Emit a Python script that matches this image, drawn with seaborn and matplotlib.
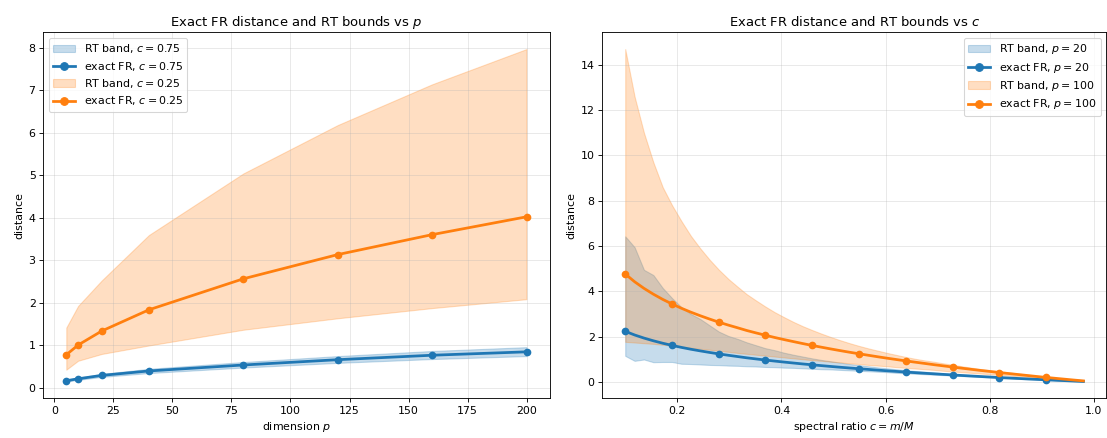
import matplotlib
matplotlib.use("Agg")
import matplotlib.pyplot as plt
import seaborn as sns
import numpy as np
import pandas as pd
from matplotlib.patches import Patch
from matplotlib.lines import Line2D

# ---------------- data: left panel (distance vs p) ----------------
p_vals = [5, 10, 20, 40, 80, 120, 160, 200]
fr_c075 = [0.16, 0.205, 0.285, 0.39, 0.53, 0.655, 0.76, 0.84]
rt_lo_c075 = [0.14, 0.18, 0.25, 0.34, 0.47, 0.58, 0.67, 0.74]
rt_hi_c075 = [0.18, 0.23, 0.32, 0.44, 0.60, 0.74, 0.86, 0.95]
fr_c025 = [0.77, 1.00, 1.33, 1.83, 2.56, 3.13, 3.60, 4.02]
rt_lo_c025 = [0.42, 0.63, 0.79, 0.99, 1.36, 1.63, 1.87, 2.08]
rt_hi_c025 = [1.41, 1.92, 2.52, 3.59, 5.04, 6.18, 7.14, 7.97]

# ---------------- data: right panel (distance vs c) ----------------
c_vals = [0.100, 0.118, 0.136, 0.154, 0.172, 0.190, 0.208, 0.226, 0.244, 0.262,
          0.280, 0.298, 0.316, 0.333, 0.351, 0.369, 0.387, 0.405, 0.423, 0.441,
          0.459, 0.477, 0.495, 0.513, 0.531, 0.549, 0.567, 0.585, 0.603, 0.621,
          0.639, 0.657, 0.675, 0.693, 0.711, 0.729, 0.747, 0.764, 0.782, 0.800,
          0.818, 0.836, 0.854, 0.872, 0.890, 0.908, 0.926, 0.944, 0.962, 0.980]
fr_p20 = [2.234, 2.073, 1.936, 1.816, 1.708, 1.612, 1.524, 1.443, 1.370, 1.301,
          1.236, 1.176, 1.119, 1.065, 1.015, 0.966, 0.920, 0.876, 0.834, 0.793,
          0.755, 0.718, 0.682, 0.647, 0.614, 0.582, 0.551, 0.520, 0.491, 0.463,
          0.435, 0.408, 0.382, 0.356, 0.332, 0.307, 0.283, 0.261, 0.238, 0.216,
          0.194, 0.174, 0.153, 0.133, 0.113, 0.093, 0.075, 0.056, 0.038, 0.019]
rt_lo_p20 = [1.15, 0.93, 0.99, 0.87, 0.88, 0.88, 0.80, 0.79, 0.77, 0.75,
             0.74, 0.72, 0.71, 0.69, 0.68, 0.66, 0.65, 0.63, 0.62, 0.60,
             0.58, 0.56, 0.55, 0.53, 0.51, 0.49, 0.47, 0.45, 0.43, 0.40,
             0.38, 0.36, 0.34, 0.32, 0.30, 0.28, 0.26, 0.24, 0.22, 0.20,
             0.175, 0.155, 0.135, 0.115, 0.10, 0.08, 0.06, 0.045, 0.03, 0.015]
rt_hi_p20 = [6.43, 5.95, 4.95, 4.72, 4.15, 3.70, 3.30, 3.00, 2.78, 2.50,
             2.22, 2.03, 1.90, 1.75, 1.62, 1.49, 1.40, 1.29, 1.20, 1.12,
             1.04, 0.97, 0.91, 0.85, 0.79, 0.74, 0.69, 0.64, 0.60, 0.56,
             0.52, 0.48, 0.45, 0.42, 0.38, 0.35, 0.32, 0.30, 0.27, 0.24,
             0.22, 0.19, 0.17, 0.15, 0.125, 0.10, 0.08, 0.06, 0.04, 0.02]
fr_p100 = [4.767, 4.424, 4.132, 3.875, 3.645, 3.440, 3.252, 3.080, 2.923, 2.776,
           2.637, 2.509, 2.389, 2.273, 2.165, 2.062, 1.962, 1.869, 1.780, 1.693,
           1.610, 1.532, 1.455, 1.381, 1.310, 1.242, 1.176, 1.110, 1.047, 0.987,
           0.927, 0.871, 0.816, 0.760, 0.708, 0.656, 0.604, 0.557, 0.507, 0.462,
           0.414, 0.371, 0.327, 0.284, 0.240, 0.199, 0.159, 0.120, 0.081, 0.045]
rt_lo_p100 = [1.77, 1.74, 1.71, 1.68, 1.64, 1.60, 1.55, 1.51, 1.46, 1.42,
              1.37, 1.33, 1.28, 1.24, 1.20, 1.16, 1.12, 1.08, 1.04, 1.00,
              0.96, 0.93, 0.89, 0.86, 0.82, 0.79, 0.75, 0.72, 0.69, 0.65,
              0.62, 0.59, 0.56, 0.53, 0.49, 0.46, 0.43, 0.40, 0.37, 0.34,
              0.31, 0.28, 0.25, 0.22, 0.19, 0.16, 0.13, 0.10, 0.06, 0.03]
rt_hi_p100 = [14.7, 12.6, 11.0, 9.7, 8.6, 7.8, 7.1, 6.45, 5.9, 5.4,
              4.95, 4.55, 4.2, 3.88, 3.6, 3.33, 3.08, 2.86, 2.65, 2.46,
              2.29, 2.13, 1.98, 1.84, 1.71, 1.59, 1.48, 1.38, 1.28, 1.19,
              1.10, 1.02, 0.95, 0.89, 0.82, 0.76, 0.69, 0.63, 0.57, 0.52,
              0.47, 0.42, 0.37, 0.32, 0.27, 0.22, 0.18, 0.13, 0.09, 0.05]

C0 = "#1f77b4"
C1 = "#ff7f0e"
BAND_ALPHA = 0.25

DPI = 79
fig = plt.figure(figsize=(1107 / DPI, 438 / DPI), dpi=DPI)
ax1 = fig.add_axes([0.0391, 0.0909, 0.4573, 0.835])
ax2 = fig.add_axes([0.5441, 0.0909, 0.4553, 0.835])


def panel(ax, x, series, markevery=None):
    handles, labels = [], []
    for fr, lo, hi, color, tag in series:
        ax.fill_between(x, lo, hi, color=color, alpha=BAND_ALPHA)
        kw = dict(marker="o", markersize=7, linewidth=2.5, color=color,
                  markeredgewidth=0, errorbar=None, estimator=None, sort=False)
        if markevery is not None:
            kw["markevery"] = markevery
        sns.lineplot(x=x, y=fr, ax=ax, **kw)
        handles.append(Patch(facecolor=color, edgecolor=color, alpha=BAND_ALPHA))
        labels.append("RT band, " + tag)
        handles.append(Line2D([], [], color=color, lw=2.5, marker="o", ms=7))
        labels.append("exact FR, " + tag)
    ax.grid(True, alpha=0.3)
    ax.set_ylabel("distance")
    for s in ax.spines.values():
        s.set_color("black")
    return handles, labels


h1, l1 = panel(ax1, p_vals, [
    (fr_c075, rt_lo_c075, rt_hi_c075, C0, "$c = 0.75$"),
    (fr_c025, rt_lo_c025, rt_hi_c025, C1, "$c = 0.25$"),
])
ax1.set_title("Exact FR distance and RT bounds vs $p$", fontsize=12)
ax1.set_xlabel("dimension $p$")
ax1.legend(h1, l1, loc="upper left", fontsize=10, labelspacing=0.4)

h2, l2 = panel(ax2, c_vals, [
    (fr_p20, rt_lo_p20, rt_hi_p20, C0, "$p = 20$"),
    (fr_p100, rt_lo_p100, rt_hi_p100, C1, "$p = 100$"),
], markevery=5)
ax2.set_title("Exact FR distance and RT bounds vs $c$", fontsize=12)
ax2.set_xlabel("spectral ratio $c = m/M$")
ax2.legend(h2, l2, loc="upper right", fontsize=10, labelspacing=0.4)

fig.savefig("out.png", dpi=DPI)
